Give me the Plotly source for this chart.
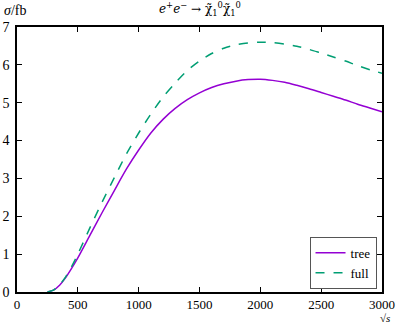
import plotly.graph_objects as go

sqrt_s = [250, 300, 350, 400, 450, 500, 600, 700, 800, 900, 1000, 1100, 1200, 1300, 1400,
          1500, 1600, 1700, 1800, 1900, 2000, 2100, 2200, 2300, 2400, 2500, 2600, 2700,
          2800, 2900, 3000]
sigma_tree = [0.0, 0.05, 0.18, 0.38, 0.63, 0.90, 1.50, 2.10, 2.68, 3.25, 3.75, 4.20, 4.56, 4.85, 5.08,
              5.26, 5.40, 5.50, 5.57, 5.61, 5.62, 5.59, 5.54, 5.46, 5.37, 5.27, 5.17, 5.07,
              4.96, 4.86, 4.76]
sigma_full = [0.0, 0.05, 0.19, 0.40, 0.68, 1.00, 1.70, 2.38, 3.02, 3.65, 4.20, 4.70, 5.15, 5.52, 5.85,
              6.10, 6.30, 6.44, 6.53, 6.58, 6.60, 6.59, 6.55, 6.49, 6.41, 6.31, 6.21, 6.10,
              5.98, 5.87, 5.78]
x_ticks = [0, 500, 1000, 1500, 2000, 2500, 3000]
y_ticks = [0, 1, 2, 3, 4, 5, 6, 7]

FONT = "Liberation Serif"

fig = go.Figure()
fig.add_trace(go.Scatter(x=sqrt_s, y=sigma_tree, mode="lines", name="tree",
                         line=dict(color="#9400d3", width=1.5, shape="spline", smoothing=0.8)))
fig.add_trace(go.Scatter(x=sqrt_s, y=sigma_full, mode="lines", name="full",
                         line=dict(color="#009e73", width=1.5, dash="dash", shape="spline",
                                   smoothing=0.8)))

axis_common = dict(showgrid=False, zeroline=False, showline=True, linecolor="black",
                   linewidth=1.5, mirror="ticks", ticks="inside", ticklen=5,
                   tickcolor="black", tickwidth=1, automargin=False)

fig.update_xaxes(range=[0, 3000], tickvals=x_ticks, ticklabelstandoff=0,
                 tickfont=dict(family=FONT, size=13, color="black"), **axis_common)
fig.update_yaxes(range=[0, 7], tickvals=y_ticks, ticklabelstandoff=3,
                 tickfont=dict(family=FONT, size=14, color="black"), **axis_common)

fig.update_layout(
    width=399, height=327,
    margin=dict(l=17, r=17, t=27, b=35, autoexpand=False),
    paper_bgcolor="white", plot_bgcolor="white",
    font=dict(family=FONT, size=13, color="black"),
    showlegend=True,
    legend=dict(x=0.985, y=0.012, xanchor="right", yanchor="bottom",
                bordercolor="#555555", borderwidth=1, bgcolor="white",
                font=dict(family=FONT, size=13), tracegroupgap=0, itemwidth=30),
    annotations=[
        dict(text="<i>σ</i>/fb", xref="paper", yref="paper", x=-0.04, y=1.025,
             xanchor="left", yanchor="bottom", showarrow=False,
             font=dict(family=FONT, size=14)),
        dict(text="<i>e</i><sup>+</sup><i>e</i><sup>−</sup> → χ̃<sub>1</sub><sup>0</sup>χ̃<sub>1</sub><sup>0</sup>",
             xref="paper", yref="paper", x=0.5, y=1.025,
             xanchor="center", yanchor="bottom", showarrow=False,
             font=dict(family="DejaVu Serif", size=12)),
        dict(text="√<i>s</i>", xref="paper", yref="paper", x=1.028, y=-0.13,
             xanchor="right", yanchor="bottom", showarrow=False,
             font=dict(family=FONT, size=11)),
    ],
)

fig.write_html("out.html", config={"displayModeBar": False},
               post_script="document.body.style.margin='0';document.body.style.overflow='hidden';")
